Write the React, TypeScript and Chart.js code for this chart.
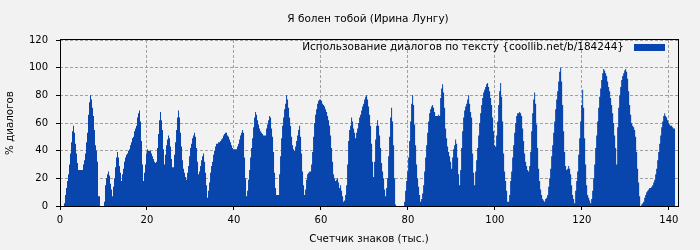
import React, { useEffect, useRef } from 'react';
import { Chart, registerables } from 'chart.js';

Chart.register(...registerables);

const TITLE = 'Я болен тобой (Ирина Лунгу)';
const SERIES_LABEL = 'Использование диалогов по тексту {coollib.net/b/184244}';
const X_TITLE = 'Счетчик знаков (тыс.)';
const Y_TITLE = '% диалогов';

// width of one bin, thousands of characters
const BIN_K = 0.23;
const X_MAX = 142.1;
const X_TICKS = [0, 20, 40, 60, 80, 100, 120, 140];
const Y_TICKS = [0, 20, 40, 60, 80, 100, 120];

// % of dialogue per bin, in consecutive stretches
const part1 = [0,0,0,0,2,8,13,18,23,30,38,46,54,58,53,45,38,31,26,26,26,26,26,30,33,38,46,53,66,75,80,77,71,65,55,44,40,32,7,7,0,0,0,0,3,15,20,23,25,22,16,12,7,14,20,28,35,39,35,29,24,18,23,27,32,35,37,38,40,41,44,46,49,50,54,56,58,64,67,69,61,47,30,18,24,30,38,41,40,40,40,38,36,34,32,31,32,42,52,62,68,62,55];
const part2 = [41,30,37,44,48,51,49,43,34,28,28,37,46,55,64,69,64,53,43,33,27,24,21,19,24,29,36,42,45,49,51,53,50,42,32,23,25,29,33,36,38,32,24,15,6,11,17,24,29,32,37,40,43,45,45,46,46,47,48,49,51,52,53,53,51,50,48,46,44,42,41,41,41,41,43,45,48,51,53,55,53,35,20,7,11,19,26,35,42,49,57,64,68,66,62,59,56,54,53,52,51,51,51];
const part3 = [56,59,62,65,64,56,50,39,24,13,8,8,8,23,36,49,58,64,70,74,80,77,71,64,58,50,44,41,40,43,47,51,55,58,50,38,25,15,8,12,19,23,24,25,25,30,39,50,60,66,70,74,76,77,77,76,74,73,72,70,68,65,62,58,51,42,32,23,20,18,19,20,17,13,15,11,7,3,4,8,15,30,47,55,58,64,61,56,53,49,53,56,60,64,66,69,72,74,77,79,80,77,72];
const part4 = [66,58,45,32,21,32,48,58,62,58,51,42,31,25,20,12,7,13,20,36,50,64,71,61,44,20,1,0,0,0,0,0,0,0,0,3,11,18,25,35,47,61,74,80,73,59,44,30,20,14,8,3,5,9,15,25,35,44,53,61,67,70,72,73,71,68,65,65,65,66,65,78,85,88,82,71,56,49,43,39,36,32,27,35,41,44,48,45,35,23,15,26,42,54,64,69,72,74,77,80,74,68,64];
const part5 = [38,24,15,25,33,42,51,60,67,73,78,82,84,86,88,89,86,83,78,73,64,54,44,43,51,61,73,83,89,79,61,38,25,18,11,3,3,8,18,25,35,44,53,60,65,67,67,68,67,65,56,47,38,32,29,26,25,29,39,54,67,77,82,74,59,42,27,18,12,8,5,4,3,5,6,8,14,20,27,36,44,53,61,70,77,83,90,97,100,90,73,54,39,29,26,27,29,27,23,15,8,5,2];
const part6 = [11,18,25,37,49,61,73,84,71,49,30,15,8,6,4,2,5,11,20,30,42,51,61,71,79,85,91,96,99,98,96,94,90,86,83,78,73,67,60,51,42,30,57,71,80,86,91,94,96,98,99,97,92,83,73,66,60,58,57,55,50,39,27,17,7,0,1,2,3,6,8,10,11,12,13,13,14,15,17,19,23,27,33,39,45,51,57,61,65,67,65,64,62,60,59,58,58,57,56,56];

const dialogShare = [...part1, ...part2, ...part3, ...part4, ...part5, ...part6];

const BLUE = '#0846ad';
const BG = '#f2f2f2';
const FONT_FAMILY = '"DejaVu Sans", "Liberation Sans", sans-serif';

export default function App() {
  const ref = useRef<HTMLCanvasElement | null>(null);

  useEffect(() => {
    document.body.style.margin = '0';
    const canvas = ref.current;
    if (!canvas) return;

    const points = dialogShare.map((v, i) => ({ x: (i + 1) * BIN_K, y: v }));

    const decor = {
      id: 'decor',
      afterDraw(chart: any) {
        const { ctx, chartArea: a } = chart;
        ctx.save();
        ctx.setLineDash([]);
        ctx.strokeStyle = '#000';
        ctx.lineWidth = 1;
        ctx.strokeRect(a.left + 0.5, a.top - 0.5, a.right - a.left, a.bottom - a.top + 1);
        ctx.fillStyle = '#000';
        ctx.font = `10.5px ${FONT_FAMILY}`;
        ctx.textAlign = 'center';
        ctx.textBaseline = 'middle';
        ctx.fillText(TITLE, (a.left + a.right) / 2 - 1, 19);
        // legend inside the plot, top right
        const label = chart.data.datasets[0].label;
        ctx.textAlign = 'right';
        ctx.fillText(label, a.right - 54, a.top + 7.5);
        ctx.fillStyle = BLUE;
        ctx.fillRect(a.right - 44, a.top + 4, 31, 7);
        ctx.restore();
      },
    };

    const tickFont = { family: FONT_FAMILY, size: 10 };
    const titleFont = { family: FONT_FAMILY, size: 10.3 };

    const chart = new Chart(canvas, {
      type: 'line',
      data: {
        datasets: [
          {
            label: SERIES_LABEL,
            data: points,
            fill: 'origin',
            backgroundColor: BLUE,
            borderColor: 'rgba(0,0,0,0)',
            borderWidth: 0,
            pointRadius: 0,
            stepped: 'after',
          },
        ],
      },
      options: {
        animation: false,
        responsive: false,
        devicePixelRatio: 1,
        layout: { padding: { top: 40, right: 22, left: 0, bottom: 0 } },
        plugins: { legend: { display: false }, title: { display: false }, tooltip: { enabled: false } },
        scales: {
          x: {
            type: 'linear',
            min: 0,
            max: X_MAX,
            afterBuildTicks: (scale: any) => {
              scale.ticks = X_TICKS.map((v) => ({ value: v }));
            },
            afterFit: (scale: any) => {
              scale.height = 44;
            },
            grid: { color: '#a0a0a0', lineWidth: 1, tickLength: 4, tickColor: '#000', drawTicks: true },
            border: { display: false, dash: [3, 2] },
            ticks: { font: tickFont, color: '#000', padding: 4, maxRotation: 0, autoSkip: false },
            title: { display: true, text: X_TITLE, font: titleFont, color: '#000', padding: { top: 4, bottom: 4 } },
          },
          y: {
            type: 'linear',
            min: 0,
            max: 120,
            afterBuildTicks: (scale: any) => {
              scale.ticks = Y_TICKS.map((v) => ({ value: v }));
            },
            afterFit: (scale: any) => {
              scale.width = 60;
            },
            grid: { color: '#a0a0a0', lineWidth: 1, tickLength: 4, tickColor: '#000', drawTicks: true },
            border: { display: false, dash: [3, 2] },
            ticks: { font: tickFont, color: '#000', padding: 8 },
            title: { display: true, text: Y_TITLE, font: titleFont, color: '#000', padding: { top: 4, bottom: 4 } },
          },
        },
      },
      plugins: [decor],
    });

    return () => chart.destroy();
  }, []);

  return (
    <div style={{ position: 'fixed', left: 0, top: 0, width: 700, height: 250, background: BG }}>
      <canvas ref={ref} width={700} height={250} style={{ display: 'block', width: 700, height: 250 }} />
    </div>
  );
}
